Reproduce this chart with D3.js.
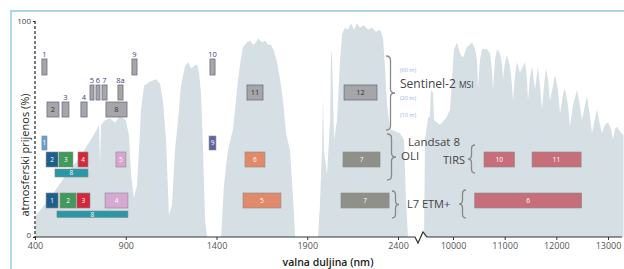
<!DOCTYPE html>
<html>
<head>
<meta charset="utf-8">
<script src="https://cdn.jsdelivr.net/npm/d3@7"></script>
<style>
  body { margin: 0; background: #fff; }
  svg { display: block; font-family: "Open Sans", sans-serif; }
</style>
</head>
<body>
<div id="chart"></div>
<script>
// atmospheric transmission: [wavelength nm, %]
var transVisNir = [[400,0],[405,10],[483,18],[565,28],[648,37],[714,46],[742,50],[753,52],[758,33],[764,52],
  [786,54],[813,55],[841,53],[868,56],[901,54],[918,47],[929,29],[945,18],[962,24],[973,40],[984,59],
  [1001,70],[1034,72],[1067,73],[1089,71],[1105,63],[1122,45],[1138,10],[1155,15],[1171,40],[1188,54],
  [1204,70],[1227,79],[1243,81],[1260,78],[1276,79],[1293,80],[1304,76],[1315,66],[1326,40],[1337,8],
  [1348,0],[1425,0],[1441,24],[1463,40],[1491,50],[1519,73],[1535,83],[1546,88],[1568,90],[1585,91],
  [1601,89],[1618,90],[1629,92],[1651,90],[1667,91],[1684,89],[1700,89],[1717,86],[1733,81],[1750,73],
  [1767,63],[1783,48],[1805,40],[1822,18],[1833,0],[1959,0],[1970,15],[1981,40],[1987,65],[1992,40],
  [2009,29],[2026,54],[2031,87],[2037,82],[2048,45],[2064,54],[2081,82],[2092,94],[2108,97],[2125,96],
  [2141,99],[2158,96],[2174,99],[2191,97],[2213,98],[2235,96],[2257,97],[2279,95],[2301,96],[2318,92],
  [2329,77],[2340,61],[2356,50],[2384,49],[2411,48],[2433,45],[2444,17],[2455,0]];

var transThermal = [[9440,0],[9458,45],[9516,55],[9555,56],[9574,68],[9613,67],[9632,54],[9748,52],
  [9865,55],[9942,59],[9981,73],[10019,87],[10077,90],[10135,85],[10194,83],[10271,88],[10368,90],
  [10426,87],[10464,82],[10484,69],[10522,82],[10561,87],[10658,87],[10716,85],[10755,77],[10774,68],
  [10813,82],[10851,87],[10910,85],[10948,80],[10968,73],[11006,81],[11045,84],[11103,79],[11142,70],
  [11161,63],[11200,75],[11238,81],[11296,76],[11393,81],[11432,73],[11451,63],[11490,74],[11529,79],
  [11587,68],[11645,79],[11684,70],[11722,59],[11761,70],[11800,78],[11838,73],[11877,63],[11935,70],
  [11974,75],[12032,68],[12071,57],[12129,66],[12167,69],[12225,61],[12264,51],[12322,61],[12400,68],
  [12457,61],[12496,54],[12554,61],[12593,65],[12651,56],[12690,48],[12748,55],[12786,59],[12845,52],
  [12883,48],[12941,52],[13000,53],[13058,50],[13097,45],[13135,50],[13174,51],[13232,49],[13300,47],[13300,0]];

// Sentinel-2 MSI
var s2Bands = ["1","2","3","4","5","6","7","8","8a","9","10","11","12"];
var s2Lo    = [438, 466, 549, 653, 703, 736, 769, 791, 857, 934, 1364, 1568, 2103];
var s2Hi    = [466, 532, 587, 687, 725, 758, 797, 907, 885, 962, 1392, 1656, 2284];
var s2Res   = [60, 10, 10, 10, 20, 20, 20, 10, 20, 60, 60, 20, 20];

// Landsat 8 OLI + TIRS
var oliBands = ["1","2","3","4","5","6","7","8","9"];
var oliLo    = [438, 461, 532, 637, 846, 1557, 2097, 510, 1359];
var oliHi    = [466, 527, 609, 692, 901, 1667, 2301, 692, 1397];
var tirsBands = ["10","11"];
var tirsLo    = [10600, 11530];
var tirsHi    = [11190, 12480];

// Landsat 7 ETM+
var etmBands = ["1","2","3","4","5","6","7","8"];
var etmLo    = [461, 538, 631, 786, 1546, 10420, 2086, 521];
var etmHi    = [527, 626, 703, 912, 1755, 12490, 2351, 912];

var xTicksLeft = [400, 900, 1400, 1900, 2400];
var xTicksRight = [10000, 11000, 12000, 13000];
var yTicks = [0, 100];

var svgWidth = 624, svgHeight = 269;

var svg = d3.select("#chart").append("svg")
  .attr("width", svgWidth)
  .attr("height", svgHeight);

var xLeft = d3.scaleLinear().domain([400, 2400]).range([35, 398]);
var xRight = d3.scaleLinear().domain([10000, 13000]).range([453, 608]);
var yScale = d3.scaleLinear().domain([0, 100]).range([237, 21]);
function xOf(nm) { return nm < 5000 ? xLeft(nm) : xRight(nm); }

// frame
svg.append("path")
  .attr("d", "M11,269 L11,11 L624,11")
  .attr("fill", "none")
  .attr("stroke", "#a9d8e1")
  .attr("stroke-width", 1.8);

// transmission curve
var area = d3.area()
  .x(d => xOf(d[0]))
  .y0(yScale(0))
  .y1(d => yScale(d[1]));

svg.selectAll(".trans")
  .data([transVisNir, transThermal])
  .enter().append("path")
  .attr("class", "trans")
  .attr("d", area)
  .attr("fill", "#d5dfe4");

// x axis with break
var axisY = yScale(0);
svg.append("path")
  .attr("d", `M35,${axisY} L415,${axisY} L418,${axisY + 6} L423,${axisY - 5} L427,${axisY} L622,${axisY}`)
  .attr("fill", "none")
  .attr("stroke", "#333")
  .attr("stroke-width", 1.2);

var gL = svg.append("g").attr("transform", `translate(0,${axisY})`)
  .call(d3.axisBottom(xLeft).tickValues(xTicksLeft).tickSize(3).tickSizeOuter(0).tickPadding(3).tickFormat(d3.format("d")));
var gR = svg.append("g").attr("transform", `translate(0,${axisY})`)
  .call(d3.axisBottom(xRight).tickValues(xTicksRight).tickSize(3).tickSizeOuter(0).tickPadding(3).tickFormat(d3.format("d")));
[gL, gR].forEach(function(g) {
  g.select(".domain").remove();
  g.selectAll("line").attr("stroke", "#333");
  g.selectAll("text").attr("fill", "#555").style("font-size", "9px").style("font-family", "Open Sans");
});

// y axis dashed
svg.append("line")
  .attr("x1", 35).attr("x2", 35)
  .attr("y1", yScale(100)).attr("y2", yScale(0))
  .attr("stroke", "#222")
  .attr("stroke-width", 1.2)
  .attr("stroke-dasharray", "3,2");
var gY = svg.append("g").attr("transform", "translate(35,0)")
  .call(d3.axisLeft(yScale).tickValues(yTicks).tickSize(2).tickPadding(2));
gY.select(".domain").remove();
gY.selectAll("line").attr("stroke", "#222");
gY.selectAll("text").attr("fill", "#444").style("font-size", "8px").style("font-family", "Open Sans")
  .attr("dy", d => d === 0 ? "0.1em" : "0.32em");

// axis titles
svg.append("text")
  .attr("transform", "translate(29,155) rotate(-90)")
  .attr("text-anchor", "middle")
  .attr("fill", "#222")
  .style("font-size", "11px")
  .text("atmosferski prijenos (%)");

svg.append("text")
  .attr("x", 328).attr("y", 266)
  .attr("text-anchor", "middle")
  .attr("fill", "#222")
  .style("font-size", "10.5px")
  .style("font-weight", "600")
  .text("valna duljina (nm)");

// rows: [top, height]
var s2Row = {60: [59, 16], 20: [85, 15], 10: [102, 15]};

// Sentinel-2 boxes
var s2 = s2Bands.map((b, i) => ({band: b, lo: s2Lo[i], hi: s2Hi[i], res: s2Res[i]}));
svg.selectAll(".s2").data(s2).enter().append("rect")
  .attr("class", "s2")
  .attr("x", d => xOf(d.lo))
  .attr("y", d => s2Row[d.res][0])
  .attr("width", d => xOf(d.hi) - xOf(d.lo))
  .attr("height", d => s2Row[d.res][1])
  .attr("fill", "#a6a6a9")
  .attr("stroke", "#6c6f86")
  .attr("stroke-width", 0.8);

svg.selectAll(".s2lab").data(s2).enter().append("text")
  .attr("class", "s2lab")
  .attr("x", d => (xOf(d.lo) + xOf(d.hi)) / 2)
  .attr("y", function(d) {
    var w = xOf(d.hi) - xOf(d.lo);
    return w < 8 ? s2Row[d.res][0] - 2 : s2Row[d.res][0] + s2Row[d.res][1] / 2 + 2.5;
  })
  .attr("text-anchor", "middle")
  .attr("fill", d => (xOf(d.hi) - xOf(d.lo)) < 8 ? "#3d4282" : "#333")
  .style("font-size", "7.5px")
  .text(d => d.band);

// Landsat colours
var oliColor = {"1": "#6a9fd0", "2": "#1f5f8e", "3": "#3f9a5b", "4": "#d2283c", "5": "#d8a6cc",
  "6": "#e08a6a", "7": "#8f9088", "8": "#2897a6", "9": "#5c679c", "10": "#c66f7b", "11": "#c66f7b"};
var etmColor = {"1": "#1f5f8e", "2": "#3f9a5b", "3": "#d2283c", "4": "#d6a9d3", "5": "#e08a6a",
  "6": "#c66f7b", "7": "#8f9088", "8": "#2897a6"};

var oliRow = function(b) {
  if (b === "1" || b === "9") return [136, 14];
  if (b === "8") return [169, 8];
  return [152, 15];
};
var etmRow = function(b) { return b === "8" ? [211, 6.5] : [193, 15]; };

var oli = oliBands.map((b, i) => ({band: b, lo: oliLo[i], hi: oliHi[i], row: oliRow(b), color: oliColor[b]}))
  .concat(tirsBands.map((b, i) => ({band: b, lo: tirsLo[i], hi: tirsHi[i], row: oliRow(b), color: oliColor[b]})));
var etm = etmBands.map((b, i) => ({band: b, lo: etmLo[i], hi: etmHi[i], row: etmRow(b), color: etmColor[b]}));

var lsBands = oli.concat(etm);
svg.selectAll(".ls").data(lsBands).enter().append("rect")
  .attr("class", "ls")
  .attr("x", d => xOf(d.lo))
  .attr("y", d => d.row[0])
  .attr("width", d => xOf(d.hi) - xOf(d.lo))
  .attr("height", d => d.row[1])
  .attr("fill", d => d.color)
  .attr("stroke", "#8a8a8a")
  .attr("stroke-width", 0.6);

svg.selectAll(".lslab").data(lsBands).enter().append("text")
  .attr("class", "lslab")
  .attr("x", d => (xOf(d.lo) + xOf(d.hi)) / 2)
  .attr("y", d => d.row[0] + d.row[1] / 2 + 2.3)
  .attr("text-anchor", "middle")
  .attr("fill", "#fff")
  .style("font-size", "6.5px")
  .text(d => d.band);

// curly braces
function brace(x, y0, y1, w, dir) {
  var ym = (y0 + y1) / 2, r = 4, xm = x + dir * w / 2, xt = x + dir * w;
  return `M${x},${y0} Q${xm},${y0} ${xm},${y0 + r} L${xm},${ym - r} Q${xm},${ym} ${xt},${ym} ` +
    `Q${xm},${ym} ${xm},${ym + r} L${xm},${y1 - r} Q${xm},${y1} ${x},${y1}`;
}
var braces = [[386, 56, 130, 9, 1], [387, 134, 180, 9, 1], [392, 191, 218, 7, 1],
  [475, 145, 173, 7, -1], [466, 190, 218, 7, -1]];
svg.selectAll(".brace").data(braces).enter().append("path")
  .attr("class", "brace")
  .attr("d", d => brace(d[0], d[1], d[2], d[3], d[4]))
  .attr("fill", "none")
  .attr("stroke", "#8a8a8a")
  .attr("stroke-width", 1.3);

// sensor labels
var s2Title = svg.append("text").attr("x", 400).attr("y", 88)
  .attr("fill", "#444").style("font-size", "12px");
s2Title.append("tspan").text("Sentinel-2 ");
s2Title.append("tspan").style("font-size", "8.5px").text("MSI");

[["(60 m)", 72], ["(20 m)", 100], ["(10 m)", 117]].forEach(function(r) {
  svg.append("text").attr("x", 400).attr("y", r[1])
    .attr("fill", "#8fb5db").style("font-size", "5.5px").text(r[0]);
});

svg.append("text").attr("x", 408).attr("y", 146).attr("fill", "#444")
  .style("font-size", "11.5px").text("Landsat 8");
svg.append("text").attr("x", 401).attr("y", 160).attr("fill", "#444")
  .style("font-size", "11.5px").text("OLI");
svg.append("text").attr("x", 443).attr("y", 164).attr("fill", "#444")
  .style("font-size", "11px").text("TIRS");
svg.append("text").attr("x", 407).attr("y", 208).attr("fill", "#444")
  .style("font-size", "11px").text("L7 ETM+");
</script>
</body>
</html>
